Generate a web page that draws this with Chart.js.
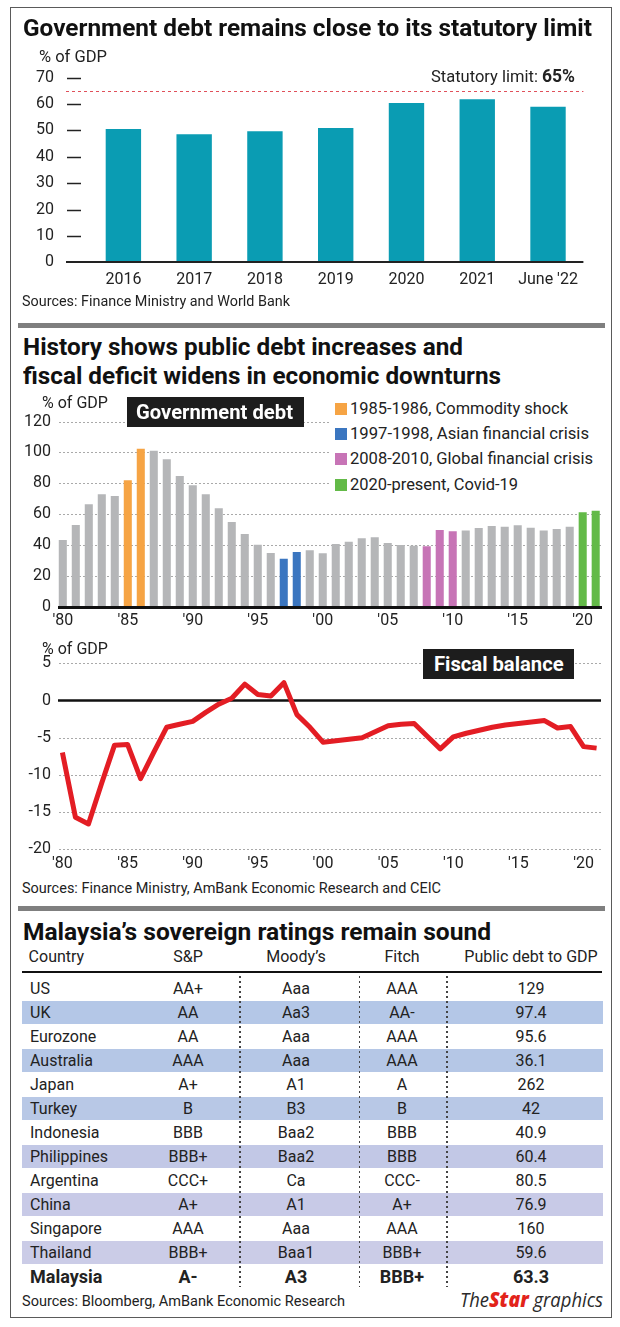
<!DOCTYPE html>
<html>
<head>
<meta charset="utf-8">
<script src="https://cdn.jsdelivr.net/npm/chart.js@4.4.1/dist/chart.umd.min.js"></script>
<style>
body { margin: 0; background: #fff; font-family: Roboto, sans-serif; color: #222; }
#page { position: relative; width: 620px; height: 1327px; overflow: hidden; background: #fff; }
.abs { position: absolute; white-space: nowrap; }
.frame { position: absolute; left: 10px; top: 7px; width: 602px; height: 1311px; border: 1.5px solid #5a5a5a; box-sizing: border-box; }
.sep { position: absolute; left: 18px; width: 587px; height: 5px; background: #7f7f7f; }
.title { font-weight: 700; font-size: 23px; line-height: 23px; color: #111; }
.unit { font-size: 16.5px; line-height: 16.5px; }
.src { font-size: 14.5px; line-height: 14.5px; }
.tag { position: absolute; background: #1d1d1d; }
.tag span { position: absolute; color: #fff; font-weight: 700; font-size: 21px; line-height: 21px; white-space: nowrap; }
canvas { position: absolute; left: 0; }
.legend { position: absolute; left: 330px; top: 394px; width: 278px; height: 104px; background: #fff; }
.legend i { position: absolute; left: 5px; width: 12px; height: 12px; }
.legend span { position: absolute; left: 20px; font-size: 16px; line-height: 16px; white-space: nowrap; }
.row { position: absolute; left: 22px; width: 580px; height: 24px; font-size: 16px; line-height: 24px; }
.row div { position: absolute; top: 0; white-space: nowrap; }
.band { position: absolute; left: 22px; width: 581px; height: 23px; }
.vdot { position: absolute; top: 976px; height: 311px; width: 1.5px;
  background: repeating-linear-gradient(to bottom, #444 0 2px, transparent 2px 5px); }
.logo { position: absolute; left: 460px; top: 1287px; font-family: "Open Sans", sans-serif; font-style: italic; font-size: 20px; line-height: 24px; white-space: nowrap; color: #2a2a2a; }
.logo b { color: #e2231a; font-weight: 800; font-size: 21px; }
</style>
</head>
<body>
<div id="page">
  <div class="frame"></div>
  <div class="sep" style="top:322.5px"></div>
  <div class="sep" style="top:905.5px"></div>

  <canvas id="recentChart" width="620" height="260" style="top:40px"></canvas>
  <canvas id="historyChart" width="620" height="240" style="top:390px"></canvas>
  <canvas id="balanceChart" width="620" height="235" style="top:640px"></canvas>

  <div class="abs title" style="left:23px;top:16.8px" data-w="569">Government debt remains close to its statutory limit</div>
  <div class="abs unit" style="left:38.5px;top:48.5px" data-w="68">% of GDP</div>
  <div class="abs src" style="left:22px;top:294.5px" data-w="268">Sources: Finance Ministry and World Bank</div>

  <div class="abs title" style="left:23px;top:336.2px" data-w="440">History shows public debt increases and</div>
  <div class="abs title" style="left:23px;top:364.8px" data-w="478">fiscal deficit widens in economic downturns</div>
  <div class="abs unit" style="left:41.7px;top:394.5px" data-w="66">% of GDP</div>
  <div class="tag" style="left:127px;top:397px;width:177px;height:30px"><span style="left:9px;top:4.5px" data-w="157">Government debt</span></div>
  <div class="legend" id="legend"></div>

  <div class="abs unit" style="left:41.7px;top:641px" data-w="66">% of GDP</div>
  <div class="tag" style="left:422.5px;top:649px;width:151.5px;height:30px"><span style="left:11.5px;top:4.5px" data-w="129.6">Fiscal balance</span></div>
  <div class="abs src" style="left:22px;top:882px" data-w="419">Sources: Finance Ministry, AmBank Economic Research and CEIC</div>

  <div class="abs title" style="left:23px;top:920.8px" data-w="468">Malaysia’s sovereign ratings remain sound</div>
  <div id="table"></div>
  <div class="abs src" style="left:22px;top:1294.7px" data-w="323">Sources: Bloomberg, AmBank Economic Research</div>
  <div class="logo" data-w="143">The<b>Star</b> graphics</div>
</div>

<script>
// ------------------------
// Data
// ------------------------

const recentYears = ['2016', '2017', '2018', '2019', '2020', '2021', "June '22"];
const recentDebt = [50.5, 48.6, 49.7, 50.9, 60.4, 61.8, 59.0];
const recentTicks = [0, 10, 20, 30, 40, 50, 60, 70];
const statutoryLimit = 65;

const historyYears = [1980, 1981, 1982, 1983, 1984, 1985, 1986, 1987, 1988, 1989,
  1990, 1991, 1992, 1993, 1994, 1995, 1996, 1997, 1998, 1999,
  2000, 2001, 2002, 2003, 2004, 2005, 2006, 2007, 2008, 2009,
  2010, 2011, 2012, 2013, 2014, 2015, 2016, 2017, 2018, 2019,
  2020, 2021];
const historyDebt = [43.2, 53.0, 66.4, 72.8, 71.7, 81.9, 102.4, 101.1, 95.5, 84.7,
  78.7, 72.8, 63.8, 54.9, 47.1, 40.2, 34.8, 31.1, 35.5, 36.5,
  34.6, 40.6, 42.1, 44.3, 45.0, 41.3, 40.0, 39.5, 39.1, 49.7,
  48.9, 49.3, 51.0, 52.3, 51.8, 52.7, 51.2, 49.3, 50.4, 51.8,
  61.2, 62.2];
const fiscalBalance = [-7.0, -15.7, -16.6, -11.2, -6.0, -5.9, -10.5, -7.0, -3.6, -3.2,
  -2.8, -1.6, -0.5, 0.3, 2.2, 0.8, 0.6, 2.4, -1.9, -3.6,
  -5.6, -5.4, -5.2, -5.0, -4.2, -3.4, -3.2, -3.1, -4.8, -6.5,
  -4.9, -4.4, -4.0, -3.6, -3.3, -3.1, -2.9, -2.7, -3.7, -3.5,
  -6.2, -6.4];

// crisis periods used to colour the debt bars
const crisisNames = ['1985-1986, Commodity shock', '1997-1998, Asian financial crisis',
  '2008-2010, Global financial crisis', '2020-present, Covid-19'];
const crisisColors = ['#f6a444', '#3b76c0', '#c774b6', '#63ba48'];
const crisisYears = [[1985, 1986], [1997, 1998], [2008, 2009, 2010], [2020, 2021]];
const normalBar = '#b5b6b8';

// ratings table
const tableHeader = ['Country', 'S&P', 'Moody’s', 'Fitch', 'Public debt to GDP'];
const countries = ['US', 'UK', 'Eurozone', 'Australia', 'Japan', 'Turkey', 'Indonesia',
  'Philippines', 'Argentina', 'China', 'Singapore', 'Thailand', 'Malaysia'];
const spRatings = ['AA+', 'AA', 'AA', 'AAA', 'A+', 'B', 'BBB', 'BBB+', 'CCC+', 'A+', 'AAA', 'BBB+', 'A-'];
const moodysRatings = ['Aaa', 'Aa3', 'Aaa', 'Aaa', 'A1', 'B3', 'Baa2', 'Baa2', 'Ca', 'A1', 'Aaa', 'Baa1', 'A3'];
const fitchRatings = ['AAA', 'AA-', 'AAA', 'AAA', 'A', 'B', 'BBB', 'BBB', 'CCC-', 'A+', 'AAA', 'BBB+', 'BBB+'];
const debtToGdp = ['129', '97.4', '95.6', '36.1', '262', '42', '40.9', '60.4', '80.5', '76.9', '160', '59.6', '63.3'];
const bandColors = { 1: '#b4c7e7', 3: '#b5c7e6', 5: '#b8c8e6', 7: '#c2c8e6', 9: '#c8cae7', 11: '#cbcce7' };

// ------------------------
// Helpers
// ------------------------

Chart.defaults.font.family = 'Roboto, sans-serif';
Chart.defaults.color = '#222';

const hLine = (ctx, x1, x2, y) => {
    ctx.beginPath();
    ctx.moveTo(x1, y);
    ctx.lineTo(x2, y);
    ctx.stroke();
};

const baseOptions = () => ({
    responsive: false,
    animation: false,
    devicePixelRatio: 1,
    plugins: { legend: { display: false }, tooltip: { enabled: false } }
});

// fixed axis sizes; drop the label overhang padding so it can't push the plot area around
const fixY = w => s => { s.width = w; s.paddingTop = 0; s.paddingBottom = 0; };
const fixX = h => s => { s.height = h; s.paddingLeft = 0; s.paddingRight = 0; };

// nudge layout padding until the plot area sits where the print has it
const pinArea = (chart, want) => {
    for (let k = 0; k < 2; k++) {
        const a = chart.chartArea;
        const old = chart.config.options.layout.padding;
        chart.config.options.layout.padding = {
            top: old.top + want.top - a.top,
            bottom: old.bottom + a.bottom - want.bottom,
            left: old.left + want.left - a.left,
            right: old.right + a.right - want.right
        };
        chart.update();
    }
};

// ------------------------
// Chart 1: recent government debt
// ------------------------

const recentDecor = {
    id: 'recentDecor',
    afterDatasetsDraw(chart) {
        const { ctx, chartArea: a, scales: { y } } = chart;
        ctx.save();
        ctx.strokeStyle = '#222';
        ctx.lineWidth = 1.5;
        recentTicks.forEach(v => {
            if (v > 0) hLine(ctx, 67, 81, Math.round(y.getPixelForValue(v)) + 0.5);
        });
        ctx.lineWidth = 2;
        hLine(ctx, 66, a.right, Math.round(y.getPixelForValue(0)));
        // statutory limit
        const ly = Math.round(y.getPixelForValue(statutoryLimit)) + 0.5;
        ctx.strokeStyle = '#e0505a';
        ctx.lineWidth = 1;
        ctx.setLineDash([3, 3]);
        hLine(ctx, 66, a.right, ly);
        ctx.setLineDash([]);
        ctx.textBaseline = 'middle';
        ctx.textAlign = 'right';
        ctx.fillStyle = '#222';
        ctx.font = 'bold 17.5px Roboto';
        const boldW = ctx.measureText(statutoryLimit + '%').width;
        ctx.fillText(statutoryLimit + '%', 575, ly - 13.5);
        ctx.font = '16.5px Roboto';
        ctx.fillText('Statutory limit: ', 575 - boldW, ly - 13.5);
        ctx.restore();
    }
};

const recentChart = new Chart(document.getElementById('recentChart'), {
    type: 'bar',
    data: {
        labels: recentYears,
        datasets: [{ data: recentDebt, backgroundColor: '#0a9cb3', barPercentage: 0.5, categoryPercentage: 1 }]
    },
    options: {
        ...baseOptions(),
        layout: { autoPadding: false, padding: { top: 37.7, right: 36.6, bottom: 0, left: 0 } },
        scales: {
            x: {
                grid: { display: false, drawTicks: false }, border: { display: false },
                ticks: { font: { size: 16 }, color: '#222', padding: 8.1 },
                afterFit: fixX(37.7)
            },
            y: {
                min: 0, max: 70,
                grid: { display: false, drawTicks: false }, border: { display: false },
                ticks: { stepSize: 10, font: { size: 16 }, color: '#222', padding: 34 },
                afterFit: fixY(88)
            }
        }
    },
    plugins: [recentDecor]
});
pinArea(recentChart, { left: 88, top: 37.7, right: 583.4, bottom: 222.3 });

// ------------------------
// Chart 2: debt history
// ------------------------

const yearTick = (v, i) => historyYears[i] % 5 === 0 ? "'" + String(historyYears[i]).slice(2) : '';

const barColors = historyYears.map(yr => {
    const k = crisisYears.findIndex(list => list.includes(yr));
    return k < 0 ? normalBar : crisisColors[k];
});

const historyDecor = {
    id: 'historyDecor',
    beforeDatasetsDraw(chart) {
        const { ctx, scales: { y } } = chart;
        ctx.save();
        ctx.strokeStyle = '#a9a9a9';
        ctx.lineWidth = 1;
        ctx.setLineDash([2, 2]);
        y.ticks.forEach(t => {
            if (t.value > 0) hLine(ctx, 59, 601, Math.round(y.getPixelForValue(t.value)) + 0.5);
        });
        ctx.restore();
    },
    afterDatasetsDraw(chart) {
        const { ctx, scales: { y } } = chart;
        ctx.save();
        ctx.strokeStyle = '#111';
        ctx.lineWidth = 3;
        hLine(ctx, 58, 602, Math.round(y.getPixelForValue(0)) + 0.5);
        ctx.restore();
    }
};

const historyChart = new Chart(document.getElementById('historyChart'), {
    type: 'bar',
    data: {
        labels: historyYears,
        datasets: [{ data: historyDebt, backgroundColor: barColors, barPercentage: 0.62, categoryPercentage: 1 }]
    },
    options: {
        ...baseOptions(),
        layout: { autoPadding: false, padding: { top: 31.5, right: 17.8, bottom: 0, left: 0 } },
        scales: {
            x: {
                grid: { display: false, drawTicks: false }, border: { display: false },
                ticks: { font: { size: 16 }, color: '#222', padding: 4.7, autoSkip: false, maxRotation: 0, callback: yearTick },
                afterFit: fixX(23.3)
            },
            y: {
                min: 0, max: 120,
                grid: { display: false, drawTicks: false }, border: { display: false },
                ticks: { stepSize: 20, font: { size: 16 }, color: '#222', padding: 5.3 },
                afterFit: fixY(56.3)
            }
        }
    },
    plugins: [historyDecor]
});
pinArea(historyChart, { left: 56.3, top: 31.5, right: 602.2, bottom: 216.7 });

// ------------------------
// Chart 3: fiscal balance
// ------------------------

const balanceDecor = {
    id: 'balanceDecor',
    beforeDatasetsDraw(chart) {
        const { ctx, scales: { y } } = chart;
        ctx.save();
        ctx.strokeStyle = '#a9a9a9';
        ctx.lineWidth = 1;
        ctx.setLineDash([2, 2]);
        y.ticks.forEach(t => {
            if (t.value !== 0) hLine(ctx, 59, 601, Math.round(y.getPixelForValue(t.value)) + 0.5);
        });
        ctx.setLineDash([]);
        ctx.strokeStyle = '#111';
        ctx.lineWidth = 2.5;
        hLine(ctx, 58, 601, y.getPixelForValue(0));
        ctx.restore();
    }
};

const balanceChart = new Chart(document.getElementById('balanceChart'), {
    type: 'line',
    data: {
        labels: historyYears,
        datasets: [{
            data: fiscalBalance, borderColor: '#e31d24', borderWidth: 5, pointRadius: 0,
            tension: 0, borderJoinStyle: 'round', fill: false
        }]
    },
    options: {
        ...baseOptions(),
        layout: { autoPadding: false, padding: { top: 23.3, right: 23.4, bottom: 0, left: 0 } },
        scales: {
            x: {
                offset: false,
                grid: { display: false, drawTicks: false }, border: { display: false },
                ticks: { font: { size: 16 }, color: '#222', padding: 5.1, autoSkip: false, maxRotation: 0, callback: yearTick },
                afterFit: fixX(25.7)
            },
            y: {
                min: -20, max: 5,
                grid: { display: false, drawTicks: false }, border: { display: false },
                ticks: { stepSize: 5, font: { size: 16 }, color: '#222', padding: 11.4 },
                afterFit: fixY(62.4)
            }
        }
    },
    plugins: [balanceDecor]
});
pinArea(balanceChart, { left: 62.4, top: 23.3, right: 596.6, bottom: 209.3 });

// ------------------------
// Legend and table
// ------------------------

const legendTops = [402.8, 428.2, 453.2, 478.5];
document.getElementById('legend').innerHTML = crisisNames.map((name, i) => {
    const top = legendTops[i] - 394;
    return `<i style="top:${top}px;background:${crisisColors[i]}"></i>` +
        `<span style="top:${top - 2}px" data-w="${[218, 239, 243, 168][i]}">${name}</span>`;
}).join('');

const colX = [{ left: 8 }, { center: 166 }, { center: 274 }, { center: 380 }, { center: 509 }];
const cellHtml = (text, k, extra = '') => {
    const c = colX[k];
    const pos = c.left !== undefined ? `left:${c.left}px` : `left:${c.center}px;transform:translateX(-50%)`;
    return `<div style="${pos};${extra}">${text}</div>`;
};

let html = '';
Object.entries(bandColors).forEach(([i, col]) => {
    html += `<div class="band" style="top:${976.5 + 24 * i + 0.3}px;background:${col}"></div>`;
});
html += `<div class="row" style="top:945px">` + tableHeader.map((h, k) => cellHtml(h, k, k === 0 ? 'left:6.6px' : '')).join('') + '</div>';
html += `<div class="abs" style="left:22px;top:971px;width:580px;height:2.3px;background:#111"></div>`;
countries.forEach((c, i) => {
    const bold = c === 'Malaysia';
    const style = bold ? 'font-weight:700;font-size:18px' : '';
    html += `<div class="row" style="top:${976.5 + 24 * i}px;${style}">` +
        [c, spRatings[i], moodysRatings[i], fitchRatings[i], debtToGdp[i]].map((t, k) => cellHtml(t, k)).join('') +
        '</div>';
});
[239.3, 358.9, 446].forEach(x => { html += `<div class="vdot" style="left:${x}px"></div>`; });
document.getElementById('table').innerHTML = html;

// squeeze condensed headline text to its measured width
document.querySelectorAll('[data-w]').forEach(el => {
    const w = el.getBoundingClientRect().width;
    el.style.transformOrigin = 'left center';
    el.style.transform = `scaleX(${el.dataset.w / w})`;
});
</script>
</body>
</html>
